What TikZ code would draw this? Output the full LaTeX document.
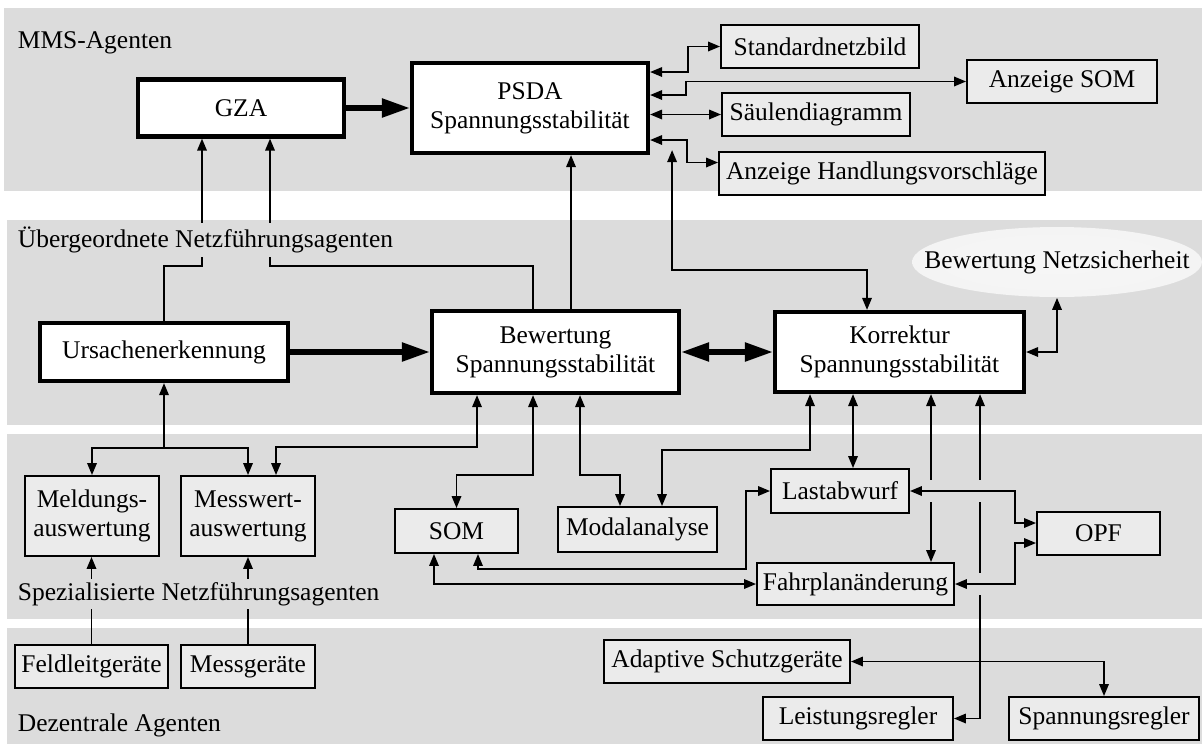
\documentclass[tikz,border=0pt]{standalone}
\usepackage{fontspec}
\setmainfont{Liberation Serif}
\usepackage{xcolor}
\usepackage{tikz}
\usetikzlibrary{shapes.geometric,arrows.meta,calc}

\definecolor{bandgray}{HTML}{DCDCDC}
\definecolor{boxgray}{HTML}{EBEBEB}
\pgfdeclareradialshading{glow}{\pgfpoint{0bp}{0bp}}{color(0bp)=(white!75!bandgray); color(28bp)=(white!68!bandgray); color(44bp)=(white!35!bandgray); color(50bp)=(bandgray)}

\begin{document}
\begin{tikzpicture}[x=0.02cm, y=-0.02cm, line width=1pt, >={Triangle[length=2.4mm,width=1.9mm]}, font=\fontsize{14.5}{16.5}\selectfont]
    \tikzstyle{band} = [fill=bandgray, draw=none]
    \tikzstyle{agent} = [rectangle, draw, line width=2.4pt, fill=white, align=center, inner sep=2pt]
    \tikzstyle{module} = [rectangle, draw, line width=1.1pt, fill=boxgray, align=center, inner sep=2pt]
    \tikzstyle{layer} = [anchor=west, fill=bandgray, inner xsep=4pt, inner ysep=2pt]
    \tikzstyle{flow} = [line width=3pt, >={Triangle[length=5.6mm,width=3.6mm]}]
    \tikzstyle{gap} = [preaction={draw=bandgray, line width=0.44cm, arrows=-, shorten <=2pt, shorten >=2pt}]

    \fill[white] (0,0) rectangle (1202,744);
    \useasboundingbox (0,0) rectangle (1202,744);

    % Layers
    \fill[band] (4,8) rectangle (1202,191);
    \fill[band] (7,220) rectangle (1202,425);
    \fill[band] (7,434) rectangle (1202,619);
    \fill[band] (7,628) rectangle (1202,744);

    % Main agents
    \node[agent, minimum width=4.12cm, minimum height=1.14cm] (gza) at (241,108) {GZA};
    \node[agent, minimum width=4.72cm, minimum height=1.8cm] (psda) at (530,108) {PSDA\\Spannungsstabilität};
    \node[agent, minimum width=4.96cm, minimum height=1.16cm] (ursache) at (164,352) {Ursachenerkennung};
    \node[agent, minimum width=4.94cm, minimum height=1.64cm] (bewertung) at (555.5,352) {Bewertung\\Spannungsstabilität};
    \node[agent, minimum width=4.98cm, minimum height=1.6cm] (korrektur) at (899.5,352) {Korrektur\\Spannungsstabilität};

    % Displays
    \node[module, minimum width=3.96cm, minimum height=0.86cm] (netzbild) at (820,46.5) {Standardnetzbild};
    \node[module, minimum width=3.8cm, minimum height=0.86cm] (anzsom) at (1062,81.5) {Anzeige SOM};
    \node[module, minimum width=3.76cm, minimum height=0.86cm] (saeulen) at (816,114.5) {Säulendiagramm};
    \node[module, minimum width=6.52cm, minimum height=0.86cm] (handlung) at (882,173.5) {Anzeige Handlungsvorschläge};

    \node[ellipse, shade, shading=glow, minimum width=5.8cm, minimum height=1.4cm, label=center:Bewertung Netzsicherheit] (sicherheit) at (1057,262) {};

    % Specialised agents
    \node[module, minimum width=2.68cm, minimum height=1.6cm] (meldung) at (92,516) {Meldungs-\\auswertung};
    \node[module, minimum width=2.68cm, minimum height=1.6cm] (messwert) at (248,516) {Messwert-\\auswertung};
    \node[module, minimum width=2.46cm, minimum height=0.88cm] (som) at (456.5,531) {SOM};
    \node[module, minimum width=3.18cm, minimum height=0.9cm] (modal) at (637.5,529.5) {Modalanalyse};
    \node[module, minimum width=2.76cm, minimum height=0.88cm] (lastab) at (840,491) {Lastabwurf};
    \node[module, minimum width=3.94cm, minimum height=0.84cm] (fahrplan) at (855.5,584) {Fahrplanänderung};
    \node[module, minimum width=2.46cm, minimum height=0.86cm] (opf) at (1098.5,533.5) {OPF};

    % Decentral agents
    \node[module, minimum width=3.06cm, minimum height=0.86cm] (feldleit) at (91.5,666.5) {Feldleitgeräte};
    \node[module, minimum width=2.68cm, minimum height=0.86cm] (messgeraet) at (248,666.5) {Messgeräte};
    \node[module, minimum width=4.92cm, minimum height=0.86cm] (adaptiv) at (727,661.5) {Adaptive Schutzgeräte};
    \node[module, minimum width=3.8cm, minimum height=0.86cm] (leistung) at (858,718.5) {Leistungsregler};
    \node[module, minimum width=3.8cm, minimum height=0.86cm] (spannung) at (1104,718.5) {Spannungsregler};

    % Thick flows
    \draw[flow, ->] (gza) -- (psda);
    \draw[flow, ->] (ursache) -- (bewertung);
    \draw[flow, <->] (bewertung) -- (korrektur);

    % PSDA and its displays
    \draw[<->] ($(psda.east)+(0,-36)$) -- ++(38,0) |- (netzbild.west);
    \draw[<->] ($(psda.east)+(0,-13)$) -- ++(36,0) |- (anzsom.west);
    \draw[<->] (psda.east |- saeulen.west) -- (saeulen.west);
    \draw[<->] ($(psda.east)+(0,32)$) -- ++(37,0) |- ($(handlung.west)+(0,-11)$);
    \draw[<->] ($(psda.south east)+(22,-5)$) -- ++(0,120) -| ($(korrektur.north)+(-32.5,0)$);

    % Up to GZA and PSDA
    \draw[->] (ursache.north) -- ++(0,-55) -| ($(gza.south)+(-39,0)$);
    \draw[->] ($(bewertung.north)+(-22.5,0)$) -- ++(0,-43) -| ($(gza.south)+(29,0)$);
    \draw[->] ($(bewertung.north)+(15.5,0)$) -- ($(psda.south)+(41,0)$);
    \draw[<->] (korrektur.east) -| (sicherheit.south);

    % Evaluation links
    \draw[<->] (ursache.south) -- ++(0,65) -| (meldung.north);
    \draw[->] ($(ursache.south)+(0,65)$) -| (messwert.north);
    \draw[<->] ($(bewertung.south)+(-78.5,0)$) -- ++(0,52) -| ($(messwert.north)+(28,0)$);
    \draw[<->] ($(bewertung.south)+(-22.5,0)$) -- ++(0,80) -| (som.north);
    \draw[<->] ($(bewertung.south)+(24.5,0)$) -- ++(0,80) -| ($(modal.north)+(-17.5,0)$);
    \draw[->] (feldleit.north) -- (feldleit.north |- meldung.south);
    \draw[->] (messgeraet) -- (messwert);

    % Correction links
    \draw[<->] ($(korrektur.south)+(-89.5,0)$) -- ++(0,56) -| ($(modal.north)+(24.5,0)$);
    \draw[<->] ($(korrektur.south)+(-46.5,0)$) -- ($(lastab.north)+(13,0)$);
    \draw[<->] ($(korrektur.south)+(31.5,0)$) -- ($(fahrplan.north)+(75.5,0)$);
    \draw[<->] ($(korrektur.south)+(80.5,0)$) |- (leistung.east);
    \draw[<->] ($(som.south)+(21.5,0)$) |- ($(lastab.west)+(-24,78)$) |- (lastab.west);
    \draw[<->] ($(som.south)+(-22.5,0)$) |- (fahrplan.west);
    \draw[<->, gap] (lastab.east) -- ++(105,0) |- ($(opf.west)+(0,-10.5)$);
    \draw[<->, gap] (fahrplan.east) -- ++(60,0) |- ($(opf.west)+(0,9.5)$);
    \draw[<->] (adaptiv.east) -| (spannung.north);

    % Layer names
    \node[layer] at (10,43) {MMS-Agenten};
    \node[layer] at (10,240) {Übergeordnete Netzführungsagenten};
    \node[layer] at (10,594) {Spezialisierte Netzführungsagenten};
    \node[layer] at (10,725) {Dezentrale Agenten};
\end{tikzpicture}
\end{document}
